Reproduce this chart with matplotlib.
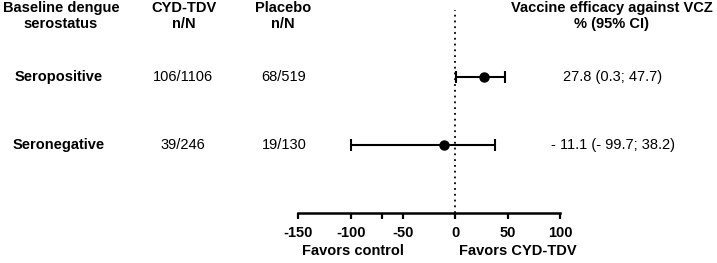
import matplotlib
matplotlib.use("Agg")
import matplotlib.pyplot as plt
import matplotlib.transforms as mtransforms

plt.rcParams['font.family'] = ['Liberation Sans', 'DejaVu Sans']
plt.rcParams['axes.unicode_minus'] = False

groups = ["Seropositive", "Seronegative"]
cyd = ["106/1106", "39/246"]
placebo = ["68/519", "19/130"]
ve = [27.8, -11.1]
lo = [0.3, -99.7]
hi = [47.7, 38.2]
ve_text = ["27.8 (0.3; 47.7)", "- 11.1 (- 99.7; 38.2)"]
xticks = [-150, -100, -50, 0, 50, 100]
minor_ticks = [-70]

fig = plt.figure(figsize=(7.17, 2.63), dpi=100)
ax = fig.add_axes([298.3/717, 50/263, (560-298.3)/717, 203/263])
ax.set_xlim(-150, 100)
ax.set_ylim(0, 203/68)

ys = [2, 1]
for y, v, l, h in zip(ys, ve, lo, hi):
    ax.errorbar([v], [y], xerr=[[v - l], [h - v]], fmt='o', color='black',
                ms=6.5, elinewidth=1.5, capsize=4, capthick=1.5, clip_on=False)

ax.axvline(0, color='black', ls=(0, (1, 2.2)), lw=1.3, zorder=0)

for s in ['left', 'right', 'top']:
    ax.spines[s].set_visible(False)
ax.spines['bottom'].set_linewidth(1.8)
ax.set_yticks([])
ax.set_xticks(xticks)
ax.set_xticks(minor_ticks, minor=True)
ax.tick_params(axis='x', which='both', direction='out', length=4, width=1.6,
               labelsize=10.5, pad=5.5)
for t in ax.get_xticklabels():
    t.set_fontweight('bold')

tr = mtransforms.blended_transform_factory(fig.transFigure, ax.transData)
fs = 10.5
hy = (213 - 16) / 68
ax.text(61/717, hy, "Baseline dengue\nserostatus", transform=tr, ha='center', va='center',
        fontsize=fs, fontweight='bold', clip_on=False, linespacing=1.1)
ax.text(184/717, hy, "CYD-TDV\nn/N", transform=tr, ha='center', va='center',
        fontsize=fs, fontweight='bold', clip_on=False, linespacing=1.1)
ax.text(283/717, hy, "Placebo\nn/N", transform=tr, ha='center', va='center',
        fontsize=fs, fontweight='bold', clip_on=False, linespacing=1.1)
ax.text(612/717, hy, "Vaccine efficacy against VCZ\n% (95% CI)", transform=tr, ha='center', va='center',
        fontsize=fs, fontweight='bold', clip_on=False, linespacing=1.1)

for y, g, c, p, t in zip(ys, groups, cyd, placebo, ve_text):
    ax.text(59/717, y, g, transform=tr, ha='center', va='center', fontsize=fs,
            fontweight='bold', clip_on=False)
    ax.text(183/717, y, c, transform=tr, ha='center', va='center', fontsize=fs, clip_on=False)
    ax.text(284/717, y, p, transform=tr, ha='center', va='center', fontsize=fs, clip_on=False)
    ax.text(613/717, y, t, transform=tr, ha='center', va='center', fontsize=fs, clip_on=False)

fig.text(353/717, 1 - 251/263, "Favors control", ha='center', va='center',
         fontsize=fs, fontweight='bold')
fig.text(518/717, 1 - 251/263, "Favors CYD-TDV", ha='center', va='center',
         fontsize=fs, fontweight='bold')

fig.savefig("out.png", dpi=100)
